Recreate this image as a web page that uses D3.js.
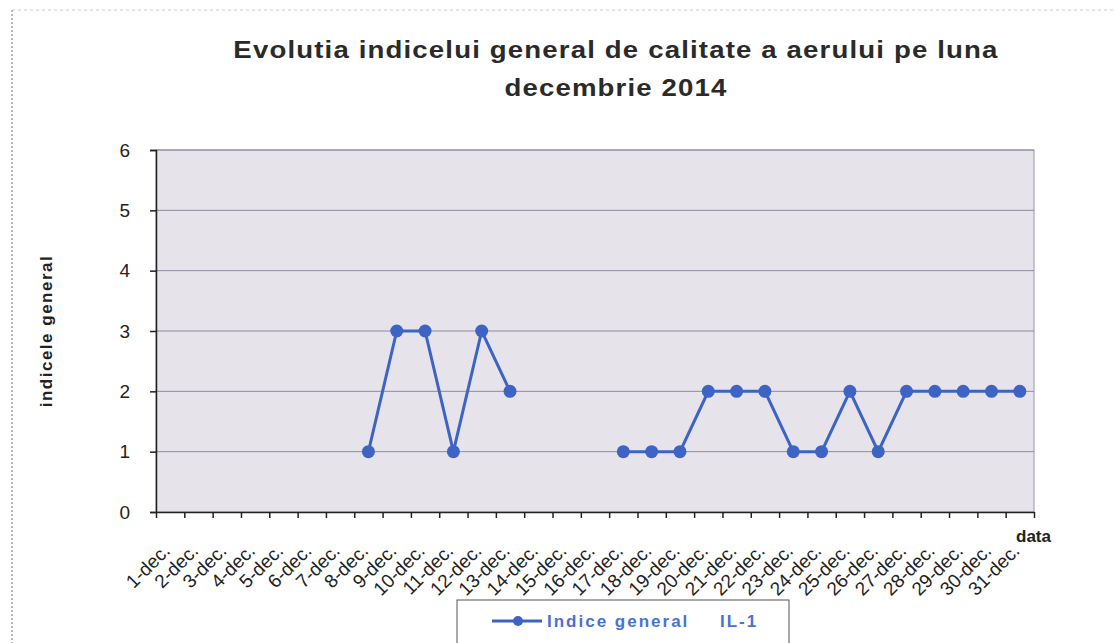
<!DOCTYPE html>
<html>
<head>
<meta charset="utf-8">
<script src="https://cdn.jsdelivr.net/npm/d3@7"></script>
<style>
  body { margin: 0; background: #fff; }
  svg { display: block; font-family: "Liberation Sans", Arial, sans-serif; }
</style>
</head>
<body>
<svg id="chart" width="1115" height="643"></svg>
<script>
// data
var days = ['1-dec.', '2-dec.', '3-dec.', '4-dec.', '5-dec.', '6-dec.', '7-dec.', '8-dec.',
  '9-dec.', '10-dec.', '11-dec.', '12-dec.', '13-dec.', '14-dec.', '15-dec.', '16-dec.',
  '17-dec.', '18-dec.', '19-dec.', '20-dec.', '21-dec.', '22-dec.', '23-dec.', '24-dec.',
  '25-dec.', '26-dec.', '27-dec.', '28-dec.', '29-dec.', '30-dec.', '31-dec.'];
var indice = [null, null, null, null, null, null, null, 1,
  3, 3, 1, 3, 2, null, null, null,
  1, 1, 1, 2, 2, 2, 1, 1,
  2, 1, 2, 2, 2, 2, 2];
var yTicks = [0, 1, 2, 3, 4, 5, 6];
var titleLines = ['Evolutia indicelui general de calitate a aerului pe luna', 'decembrie 2014'];

var blue = '#3d64c4';
var svg = d3.select('#chart');

var pLeft = 156, pRight = 1034, pTop = 150, pBottom = 512;

var x = d3.scaleBand().domain(days).range([pLeft, pRight]);
var xt = d3.scaleLinear().domain([0, days.length]).range([pLeft, pRight]);
var y = d3.scaleLinear().domain([0, 6]).range([pBottom, pTop]);

var data = days.map(function(d, i) { return {day: d, v: indice[i]}; });

// scanned page edges
svg.append('line').attr('x1', 12).attr('x2', 12).attr('y1', 10).attr('y2', 643)
  .attr('stroke', '#777').attr('stroke-dasharray', '2,2');
svg.append('line').attr('x1', 12).attr('x2', 1115).attr('y1', 10).attr('y2', 10)
  .attr('stroke', '#ccc').attr('stroke-dasharray', '3,3');

// title (the scan is a bit stretched sideways)
svg.append('g')
  .attr('transform', 'translate(616,0) scale(1.15,1)')
  .selectAll('text')
  .data(titleLines)
  .enter()
  .append('text')
  .attr('x', 0)
  .attr('y', function(d, i) { return 58 + i * 38; })
  .attr('text-anchor', 'middle')
  .style('font-size', '24px')
  .style('font-weight', 'bold')
  .style('letter-spacing', '1px')
  .style('fill', '#2a2a2a')
  .text(function(d) { return d; });

// plot background
svg.append('rect')
  .attr('x', pLeft).attr('y', pTop)
  .attr('width', pRight - pLeft).attr('height', pBottom - pTop)
  .attr('fill', '#e6e3eb')
  .attr('stroke', '#9a97a8');

// gridlines
svg.append('g')
  .selectAll('line')
  .data(yTicks.slice(1))
  .enter()
  .append('line')
  .attr('x1', pLeft).attr('x2', pRight)
  .attr('y1', function(d) { return y(d); })
  .attr('y2', function(d) { return y(d); })
  .attr('stroke', '#8f8a9e')
  .attr('stroke-width', 1);

// y axis
var yAxis = svg.append('g')
  .attr('transform', 'translate(' + pLeft + ',0)')
  .call(d3.axisLeft(y).tickValues(yTicks).tickFormat(d3.format('d')).tickSize(6).tickPadding(20));
yAxis.attr('font-family', null);
yAxis.selectAll('text').style('font-size', '19px').style('fill', '#222');
yAxis.selectAll('line, path').attr('stroke', '#222').attr('stroke-width', 1.5);

// x axis (ticks between categories)
var xAxis = svg.append('g')
  .attr('transform', 'translate(0,' + pBottom + ')')
  .call(d3.axisBottom(xt).tickValues(d3.range(days.length + 1)).tickFormat('').tickSize(6).tickSizeOuter(0));
xAxis.selectAll('line, path').attr('stroke', '#222').attr('stroke-width', 1.5);

svg.append('g')
  .selectAll('text')
  .data(days)
  .enter()
  .append('text')
  .attr('transform', function(d) {
    return 'translate(' + (x(d) + x.bandwidth() / 2 + 1) + ',' + (pBottom + 40) + ') rotate(-45)';
  })
  .attr('text-anchor', 'end')
  .style('font-size', '19px')
  .style('fill', '#222')
  .text(function(d) { return d; });

// axis titles
svg.append('text')
  .attr('transform', 'translate(52,' + ((pTop + pBottom) / 2) + ') rotate(-90)')
  .attr('text-anchor', 'middle')
  .style('font-size', '17px')
  .style('font-weight', 'bold')
  .style('letter-spacing', '1.5px')
  .style('fill', '#222')
  .text('indicele general');

svg.append('text')
  .attr('x', 1051).attr('y', 542)
  .attr('text-anchor', 'end')
  .style('font-size', '17px')
  .style('font-weight', 'bold')
  .style('fill', '#222')
  .text('data');

// series
var line = d3.line()
  .defined(function(d) { return d.v != null; })
  .x(function(d) { return x(d.day) + x.bandwidth() / 2; })
  .y(function(d) { return y(d.v); });

svg.append('path')
  .datum(data)
  .attr('d', line)
  .attr('fill', 'none')
  .attr('stroke', blue)
  .attr('stroke-width', 3);

svg.append('g')
  .selectAll('circle')
  .data(data.filter(function(d) { return d.v != null; }))
  .enter()
  .append('circle')
  .attr('cx', function(d) { return x(d.day) + x.bandwidth() / 2; })
  .attr('cy', function(d) { return y(d.v); })
  .attr('r', 6.5)
  .attr('fill', blue);

// legend
var lg = svg.append('g').attr('transform', 'translate(457,600)');
lg.append('rect')
  .attr('width', 332).attr('height', 60)
  .attr('fill', '#fff')
  .attr('stroke', '#555');
lg.append('line')
  .attr('x1', 35).attr('x2', 85).attr('y1', 21).attr('y2', 21)
  .attr('stroke', blue).attr('stroke-width', 3);
lg.append('circle').attr('cx', 61).attr('cy', 21).attr('r', 5).attr('fill', blue);
lg.append('text')
  .attr('x', 90).attr('y', 27)
  .style('font-size', '17px')
  .style('font-weight', 'bold')
  .style('letter-spacing', '2px')
  .style('fill', '#4a70d8')
  .text('Indice general');
lg.append('text')
  .attr('x', 263).attr('y', 27)
  .style('font-size', '17px')
  .style('font-weight', 'bold')
  .style('letter-spacing', '2px')
  .style('fill', '#4a70d8')
  .text('IL-1');
</script>
</body>
</html>
